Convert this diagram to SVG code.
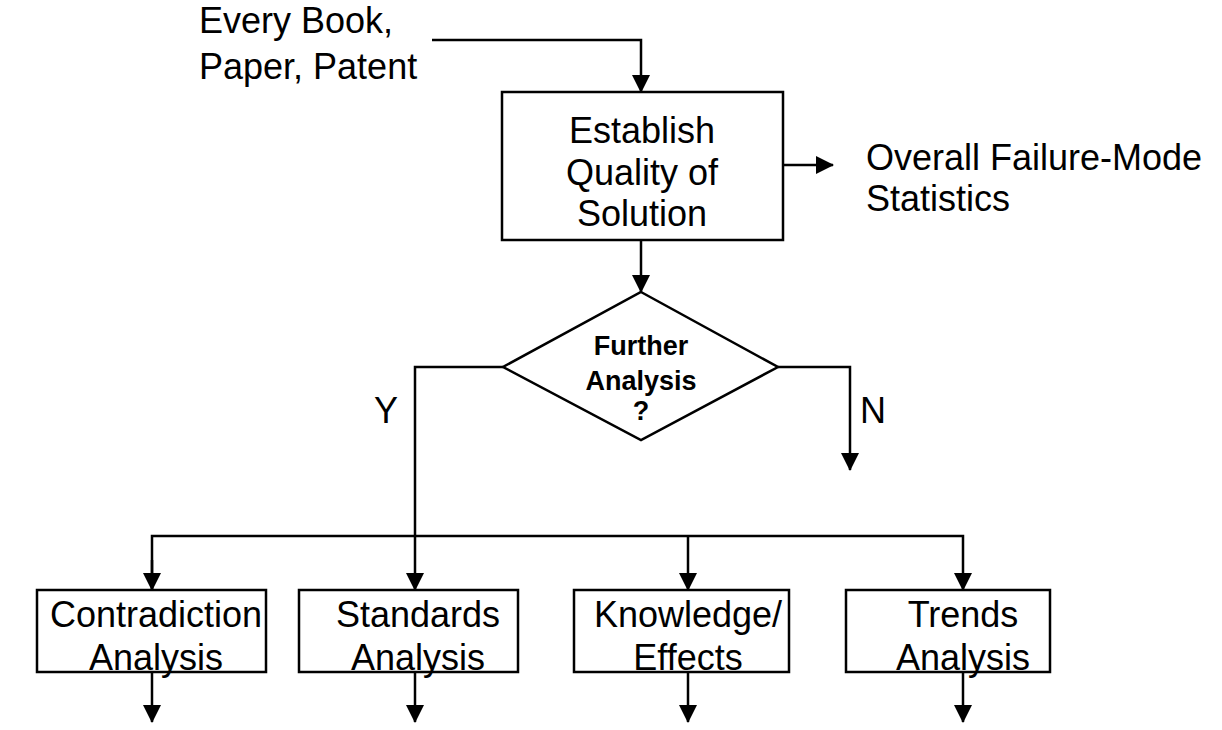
<svg xmlns="http://www.w3.org/2000/svg" width="1222" height="730" viewBox="0 0 1222 730">
<style>
.t{font-family:"Liberation Sans",Arial,sans-serif;font-size:36px;fill:#000}
.c{text-anchor:middle}
.b{font-weight:bold;font-size:27px}
.box{fill:#fff;stroke:#000;stroke-width:2.5}
.ln{fill:none;stroke:#000;stroke-width:2.5}
</style>
<defs>
<marker id="arr" viewBox="0 0 18 18" refX="17" refY="9" markerWidth="18" markerHeight="18" markerUnits="userSpaceOnUse" orient="auto">
<path d="M0,0 L18,9 L0,18 Z" fill="#000"/>
</marker>
</defs>
<rect width="1222" height="730" fill="#fff"/>
<g id="connectors">
<path class="ln" d="M432,40 H641 V92" marker-end="url(#arr)"/>
<path class="ln" d="M783,165 H833" marker-end="url(#arr)"/>
<path class="ln" d="M641,240 V292" marker-end="url(#arr)"/>
<path class="ln" d="M503,367 H415 V590" marker-end="url(#arr)"/>
<path class="ln" d="M778,367 H850 V470" marker-end="url(#arr)"/>
<path class="ln" d="M152,590 V536 H963 V590" marker-end="url(#arr)"/>
<path class="ln" d="M152,560 V590" marker-end="url(#arr)"/>
<path class="ln" d="M688,536 V590" marker-end="url(#arr)"/>
<path class="ln" d="M152,672 V722" marker-end="url(#arr)"/>
<path class="ln" d="M415,672 V722" marker-end="url(#arr)"/>
<path class="ln" d="M688,672 V722" marker-end="url(#arr)"/>
<path class="ln" d="M963,672 V722" marker-end="url(#arr)"/>
</g>
<g id="input">
<text class="t" x="199" y="33">Every Book,</text>
<text class="t" x="199" y="79">Paper, Patent</text>
</g>
<g id="establish">
<rect class="box" x="502" y="92" width="281" height="148"/>
<text class="t c" x="642" y="143">Establish</text>
<text class="t c" x="642" y="185">Quality of</text>
<text class="t c" x="642" y="226">Solution</text>
</g>
<g id="stats">
<text class="t" x="866" y="170">Overall Failure-Mode</text>
<text class="t" x="866" y="211">Statistics</text>
</g>
<g id="decision">
<polygon class="box" points="641,292 778,367 641,440 503,367"/>
<text class="t c b" x="641" y="355">Further</text>
<text class="t c b" x="641" y="390">Analysis</text>
<text class="t c b" x="641" y="420">?</text>
</g>
<g id="labels">
<text class="t c" x="386" y="423">Y</text>
<text class="t c" x="873" y="423">N</text>
</g>
<g id="contradiction">
<rect class="box" x="37" y="590" width="229" height="82"/>
<text class="t c" x="156" y="627">Contradiction</text>
<text class="t c" x="156" y="670">Analysis</text>
</g>
<g id="standards">
<rect class="box" x="299" y="590" width="219" height="82"/>
<text class="t c" x="418" y="627">Standards</text>
<text class="t c" x="418" y="670">Analysis</text>
</g>
<g id="knowledge">
<rect class="box" x="574" y="590" width="215" height="82"/>
<text class="t c" x="688" y="627">Knowledge/</text>
<text class="t c" x="688" y="670">Effects</text>
</g>
<g id="trends">
<rect class="box" x="846" y="590" width="204" height="82"/>
<text class="t c" x="963" y="627">Trends</text>
<text class="t c" x="963" y="670">Analysis</text>
</g>
</svg>
